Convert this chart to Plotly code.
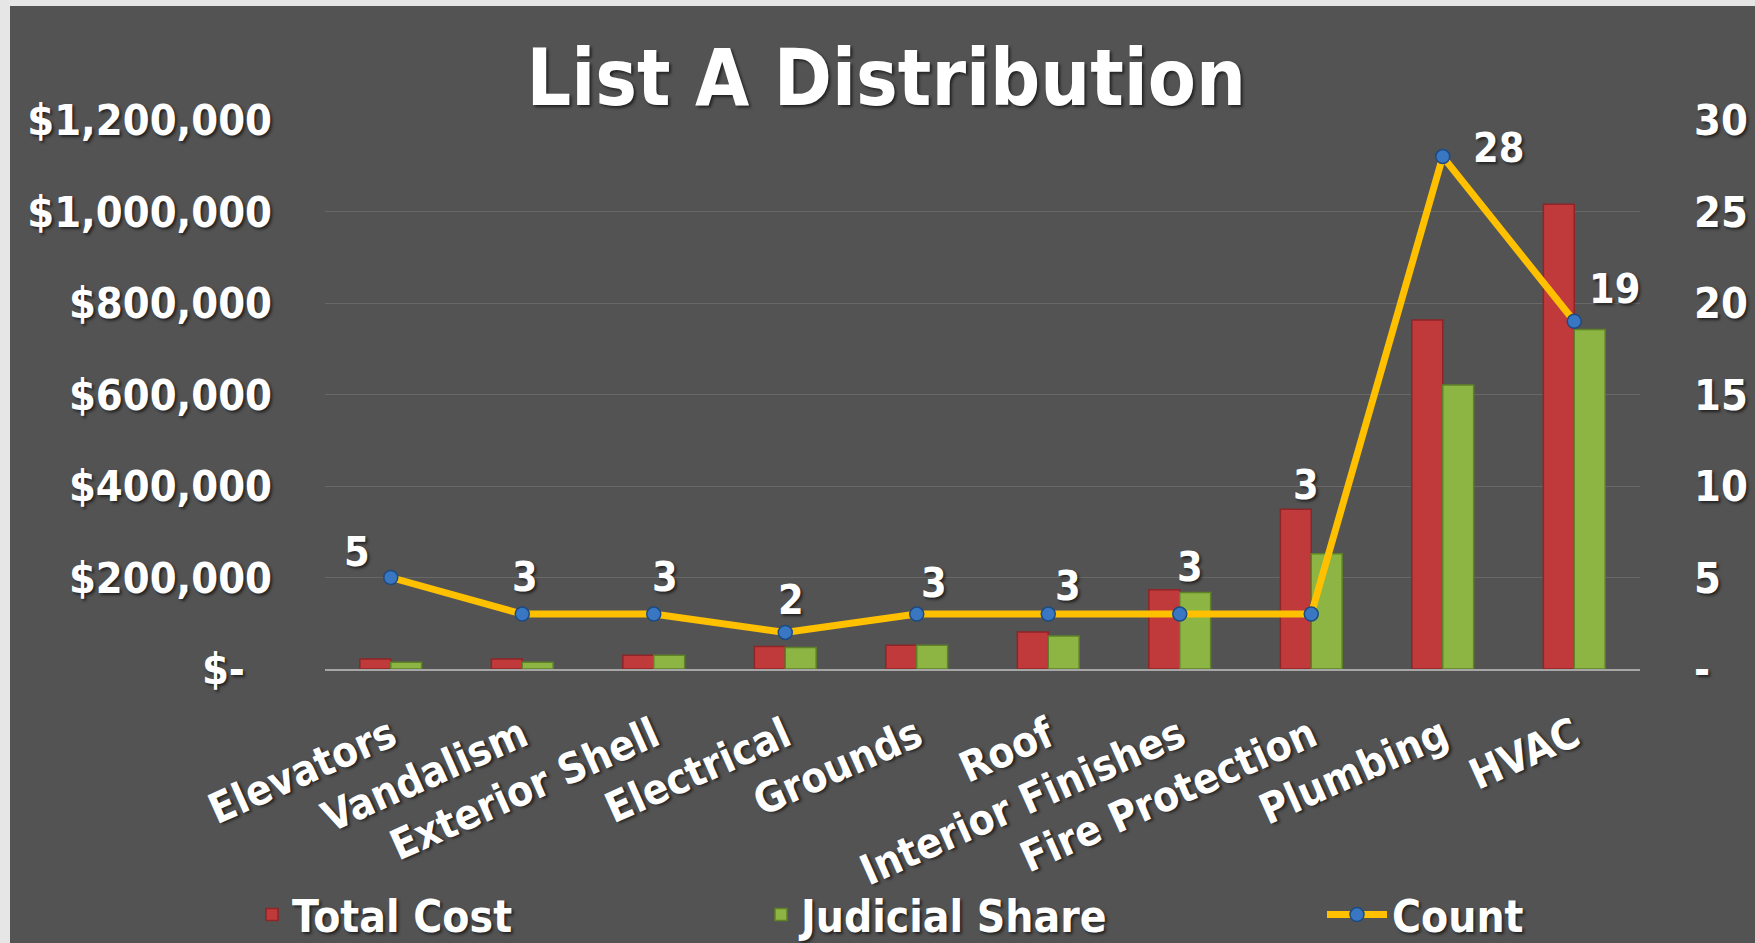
import plotly.graph_objects as go

categories = ["Elevators", "Vandalism", "Exterior Shell", "Electrical", "Grounds",
              "Roof", "Interior Finishes", "Fire Protection", "Plumbing", "HVAC"]
total_cost = [22000, 22000, 30000, 49000, 52000, 81000, 173000, 349000, 763000, 1016000]
judicial_share = [15000, 15000, 30000, 47000, 52000, 72000, 167000, 252000, 621000, 742000]
count = [5, 3, 3, 2, 3, 3, 3, 3, 28, 19]

left_tickvals = [0, 200000, 400000, 600000, 800000, 1000000, 1200000]
left_ticktext = ["$-\u2002\u2009", "$200,000", "$400,000", "$600,000", "$800,000", "$1,000,000", "$1,200,000"]
right_tickvals = [0, 5, 10, 15, 20, 25, 30]
right_ticktext = ["-", "5", "10", "15", "20", "25", "30"]

# label offsets (pixels) for count data labels
label_dx = [-34, 3, 11, 6, 17, 20, 10, -5, 56, 40]
label_dy = [26, 37, 37, 32, 31, 28, 47, 129, 9, 32]

FONT = "DejaVu Sans Condensed, DejaVu Sans, sans-serif"
SHADOW = "2px 2px 3px rgba(0,0,0,0.6)"
BG = "#535353"

W, H = 1755, 943
L, R, T, B = 325, 1640, 120, 669

fig = go.Figure()
fig.add_trace(go.Bar(
    x=categories, y=total_cost, name="Total Cost",
    marker=dict(color="#C0393B", line=dict(color="#8E2527", width=1.5)),
    legend="legend",
))
fig.add_trace(go.Bar(
    x=categories, y=judicial_share, name="Judicial Share",
    marker=dict(color="#8DB543", line=dict(color="#5F8128", width=1.5)),
    legend="legend2",
))
fig.add_trace(go.Scatter(
    x=categories, y=count, name="Count", yaxis="y2", mode="lines+markers",
    line=dict(color="#FFC000", width=7),
    marker=dict(color="#3A77C2", size=14, line=dict(color="#1E4A80", width=1.5)),
    legend="legend3",
))

for c, v, dx, dy in zip(categories, count, label_dx, label_dy):
    fig.add_annotation(
        x=c, y=v, xref="x", yref="y2", text=str(v), showarrow=False,
        xshift=dx, yshift=dy,
        font=dict(family=FONT, size=41, color="white", weight="bold", shadow=SHADOW),
    )

# spreadsheet edge strips
pw, ph = R - L, B - T
def px_x(p):
    return (p - L) / pw
def px_y(p):
    return (B - p) / ph
fig.add_shape(type="rect", xref="paper", yref="paper", x0=px_x(0), x1=px_x(10),
              y0=px_y(0), y1=px_y(H), fillcolor="#E6E6E6", line=dict(width=0), layer="below")
fig.add_shape(type="rect", xref="paper", yref="paper", x0=px_x(0), x1=px_x(W),
              y0=px_y(0), y1=px_y(6), fillcolor="#E6E6E6", line=dict(width=0), layer="below")

legend_common = dict(
    orientation="h", xref="container", yref="container", yanchor="middle",
    bgcolor="rgba(0,0,0,0)",
    font=dict(family=FONT, size=44, color="white", weight="bold", shadow=SHADOW),
)

fig.update_layout(
    width=W, height=H, autosize=False,
    margin=dict(l=L, r=W - R, t=T, b=H - B, autoexpand=False),
    paper_bgcolor=BG, plot_bgcolor=BG,
    title=dict(text="List A Distribution", x=0.505, xref="container", y=1 - 78 / H,
               yref="container", xanchor="center", yanchor="middle", automargin=False,
               font=dict(family=FONT, size=78, color="white", weight="bold", shadow=SHADOW)),
    barmode="group", bargap=0.53, bargroupgap=0.0,
    xaxis=dict(
        type="category", range=[-0.5, len(categories) - 0.5],
        tickangle=-24, showgrid=False, showline=True, automargin=False,
        linecolor="#A6A6A6", linewidth=2, ticks="", ticklabelstandoff=24,
        tickfont=dict(family=FONT, size=42, color="white", weight="bold", shadow=SHADOW),
    ),
    yaxis=dict(
        range=[0, 1200000], tickvals=left_tickvals, ticktext=left_ticktext, automargin=False,
        showgrid=True, gridcolor="#686868", gridwidth=1, zeroline=False,
        ticks="", ticklabelstandoff=52,
        tickfont=dict(family=FONT, size=43, color="white", weight="bold", shadow=SHADOW),
    ),
    yaxis2=dict(
        range=[0, 30], tickvals=right_tickvals, ticktext=right_ticktext, automargin=False,
        overlaying="y", side="right", showgrid=False, zeroline=False,
        ticks="", ticklabelstandoff=53,
        tickfont=dict(family=FONT, size=43, color="white", weight="bold", shadow=SHADOW),
    ),
    showlegend=True,
    legend=dict(x=252 / W, y=1 - 915 / H, **legend_common),
    legend2=dict(x=761 / W, y=1 - 915 / H, **legend_common),
    legend3=dict(x=1322 / W, y=1 - 915 / H, itemwidth=60, **legend_common),
)

fig.write_html("out.html", config={"displayModeBar": False},
               post_script="document.body.style.margin='0';document.body.style.overflow='hidden';")
